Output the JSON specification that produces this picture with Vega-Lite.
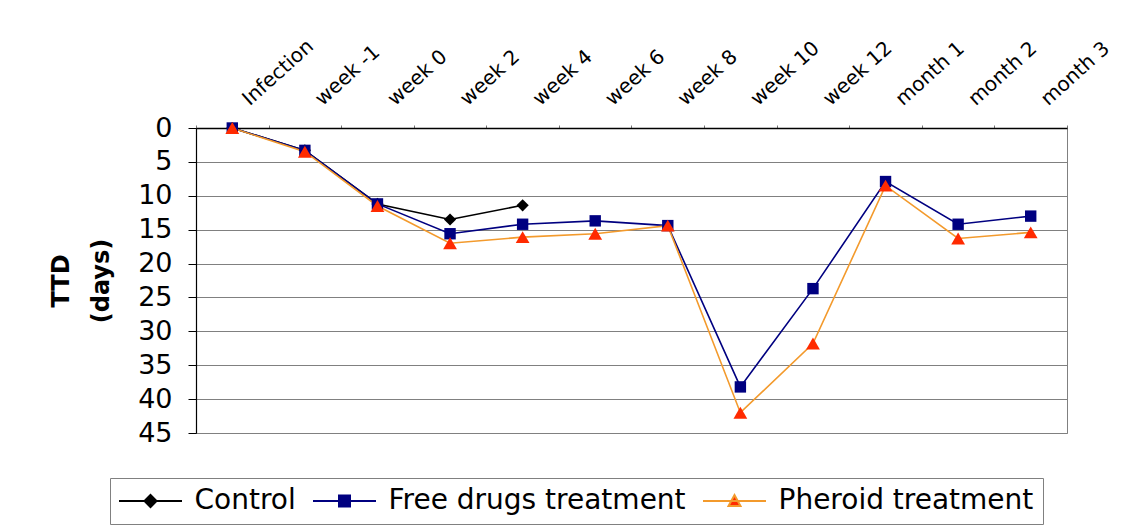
{
  "$schema": "https://vega.github.io/schema/vega-lite/v6.json",
  "width": 871,
  "height": 305,
  "autosize": {"type": "none"},
  "padding": {"left": 196, "top": 128, "right": 73, "bottom": 95},
  "background": "white",
  "config": {
    "font": "DejaVu Sans",
    "view": {"stroke": "#808080", "strokeWidth": 1}
  },
  "data": {
    "values": [
      {"time": "Infection", "series": "Control", "ttd": 0},
      {"time": "week -1", "series": "Control", "ttd": 3.3},
      {"time": "week 0", "series": "Control", "ttd": 11.2},
      {"time": "week 2", "series": "Control", "ttd": 13.5},
      {"time": "week 4", "series": "Control", "ttd": 11.4},

      {"time": "Infection", "series": "Free drugs treatment", "ttd": 0},
      {"time": "week -1", "series": "Free drugs treatment", "ttd": 3.3},
      {"time": "week 0", "series": "Free drugs treatment", "ttd": 11.2},
      {"time": "week 2", "series": "Free drugs treatment", "ttd": 15.6},
      {"time": "week 4", "series": "Free drugs treatment", "ttd": 14.2},
      {"time": "week 6", "series": "Free drugs treatment", "ttd": 13.7},
      {"time": "week 8", "series": "Free drugs treatment", "ttd": 14.4},
      {"time": "week 10", "series": "Free drugs treatment", "ttd": 38.2},
      {"time": "week 12", "series": "Free drugs treatment", "ttd": 23.7},
      {"time": "month 1", "series": "Free drugs treatment", "ttd": 7.9},
      {"time": "month 2", "series": "Free drugs treatment", "ttd": 14.2},
      {"time": "month 3", "series": "Free drugs treatment", "ttd": 13.0},

      {"time": "Infection", "series": "Pheroid treatment", "ttd": 0},
      {"time": "week -1", "series": "Pheroid treatment", "ttd": 3.5},
      {"time": "week 0", "series": "Pheroid treatment", "ttd": 11.5},
      {"time": "week 2", "series": "Pheroid treatment", "ttd": 17.0},
      {"time": "week 4", "series": "Pheroid treatment", "ttd": 16.1},
      {"time": "week 6", "series": "Pheroid treatment", "ttd": 15.6},
      {"time": "week 8", "series": "Pheroid treatment", "ttd": 14.4},
      {"time": "week 10", "series": "Pheroid treatment", "ttd": 42.0},
      {"time": "week 12", "series": "Pheroid treatment", "ttd": 31.8},
      {"time": "month 1", "series": "Pheroid treatment", "ttd": 8.5},
      {"time": "month 2", "series": "Pheroid treatment", "ttd": 16.3},
      {"time": "month 3", "series": "Pheroid treatment", "ttd": 15.4}
    ]
  },
  "encoding": {
    "x": {
      "field": "time",
      "type": "ordinal",
      "sort": ["Infection", "week -1", "week 0", "week 2", "week 4", "week 6", "week 8", "week 10", "week 12", "month 1", "month 2", "month 3"],
      "scale": {"type": "band", "paddingInner": 0, "paddingOuter": 0},
      "axis": {
        "orient": "top",
        "title": null,
        "domainColor": "black",
        "domainWidth": 1.5,
        "tickBand": "extent",
        "tickSize": 3,
        "tickColor": "#777777",
        "labelAngle": -42,
        "labelAlign": "left",
        "labelBaseline": "alphabetic",
        "labelOffset": 17,
        "labelPadding": 19,
        "labelFont": "DejaVu Sans",
        "labelFontSize": 20,
        "labelColor": "black"
      }
    },
    "y": {
      "field": "ttd",
      "type": "quantitative",
      "scale": {"domain": [0, 45], "reverse": true, "nice": false},
      "axis": {
        "values": [0, 5, 10, 15, 20, 25, 30, 35, 40, 45],
        "grid": true,
        "gridColor": "#808080",
        "gridWidth": 1,
        "domainColor": "black",
        "domainWidth": 1.2,
        "tickColor": "black",
        "tickSize": 8,
        "labelPadding": 16,
        "labelFont": "DejaVu Sans",
        "labelFontSize": 27,
        "labelColor": "black",
        "title": ["TTD", "(days)"],
        "titleFont": "DejaVu Sans",
        "titleFontSize": 24,
        "titleFontWeight": "bold",
        "titleColor": "black",
        "titleLineHeight": 40,
        "titlePadding": 24
      }
    }
  },
  "layer": [
    {
      "mark": {"type": "line", "strokeWidth": 1.6},
      "encoding": {
        "color": {
          "field": "series",
          "type": "nominal",
          "scale": {
            "domain": ["Control", "Free drugs treatment", "Pheroid treatment"],
            "range": ["#000000", "#000080", "#f39a2c"]
          },
          "legend": {
            "title": null,
            "orient": "none",
            "legendX": -86,
            "legendY": 350,
            "direction": "horizontal",
            "columns": 3,
            "padding": 9,
            "strokeColor": "#808080",
            "fillColor": "white",
            "labelFont": "DejaVu Sans",
            "labelFontSize": 28,
            "labelColor": "black",
            "labelLimit": 500,
            "symbolSize": 400,
            "symbolStrokeWidth": 2,
            "symbolOffset": 17.5,
            "labelOffset": 30,
            "columnPadding": 13,
            "encode": {
              "symbols": {
                "update": {
                  "shape": {"signal": "datum.value === 'Control' ? 'M-3.15,0H3.15M0,-0.6L0.6,0L0,0.6L-0.6,0Z' : datum.value === 'Free drugs treatment' ? 'M-3.15,0H3.15M-0.55,-0.55H0.55V0.55H-0.55Z' : 'M-3.15,0H3.15M-0.6,0.5L0.6,0.5L0,-0.6Z'"},
                  "fill": {"signal": "datum.value === 'Control' ? '#000000' : datum.value === 'Free drugs treatment' ? '#000080' : '#ff2a00'"},
                  "strokeWidth": {"value": 2},
                  "size": {"value": 400}
                }
              }
            }
          }
        }
      }
    },
    {
      "transform": [{"filter": "datum.series === 'Control'"}],
      "mark": {"type": "point", "shape": "diamond", "filled": true, "opacity": 1, "strokeWidth": 0, "color": "#000000", "size": 150}
    },
    {
      "transform": [{"filter": "datum.series === 'Free drugs treatment'"}],
      "mark": {"type": "point", "shape": "square", "filled": true, "opacity": 1, "strokeWidth": 0, "color": "#000080", "size": 130}
    },
    {
      "transform": [{"filter": "datum.series === 'Pheroid treatment'"}],
      "mark": {"type": "point", "shape": "triangle-up", "filled": true, "opacity": 1, "strokeWidth": 0, "color": "#ff2a00", "size": 190}
    }
  ]
}
